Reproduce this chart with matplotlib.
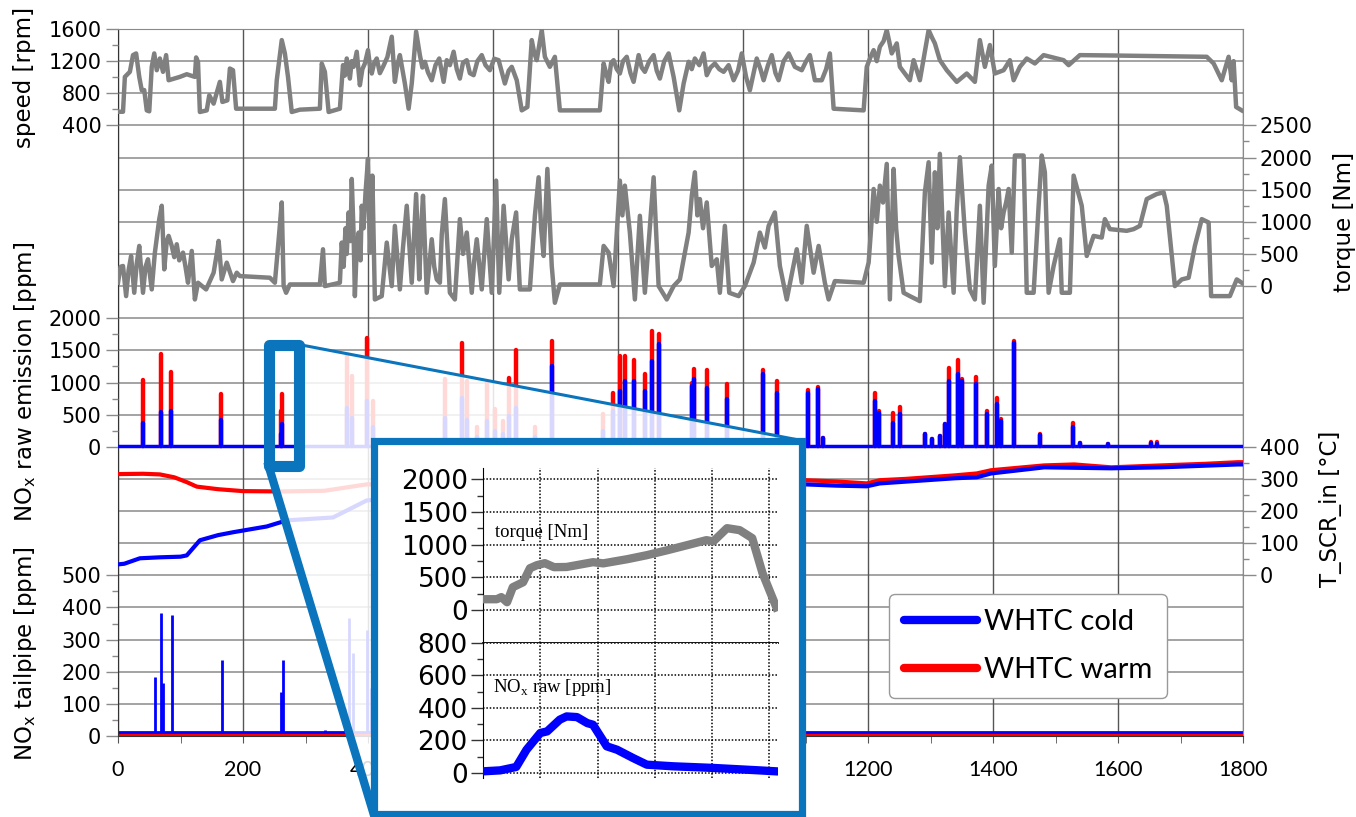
import numpy as np
import matplotlib.pyplot as plt
from matplotlib.lines import Line2D
from matplotlib.patches import Polygon, Rectangle

plt.rcParams['font.family'] = ['DejaVu Sans']
plt.rcParams['mathtext.fontset'] = 'custom'
plt.rcParams['mathtext.rm'] = 'Liberation Serif'
plt.rcParams['mathtext.sf'] = 'DejaVu Sans'

# ---- data ----
speed_t = [0, 8, 11, 19, 24, 29, 34, 38, 42, 46, 50, 54, 58, 62, 67, 72, 77, 81, 99, 110, 123, 125, 128,
           131, 142, 146, 153, 163, 167, 175, 179, 184, 189, 251, 254, 262, 267, 272, 278, 291, 323, 326,
           331, 337, 355, 360, 363, 366, 369, 371, 374, 377, 382, 387, 391, 395, 400, 403, 406, 410, 414,
           419, 424, 431, 438, 443, 447, 451, 459, 465, 470, 477, 483, 487, 491, 496, 502, 508, 514, 521,
           526, 531, 537, 542, 547, 552, 558, 563, 569, 575, 582, 588, 595, 602, 609, 619, 625, 630, 638,
           646, 655, 662, 666, 670, 678, 683, 691, 699, 707, 771, 777, 781, 785, 789, 793, 798, 803, 808,
           814, 820, 825, 833, 838, 843, 850, 857, 862, 867, 874, 881, 889, 898, 905, 913, 918, 923, 930,
           937, 942, 948, 955, 962, 969, 977, 985, 992, 998, 1005, 1011, 1022, 1028, 1033, 1040, 1046, 1052,
           1057, 1065, 1073, 1083, 1094, 1101, 1107, 1115, 1126, 1133, 1139, 1145, 1193, 1198, 1204, 1209,
           1214, 1219, 1225, 1230, 1238, 1246, 1251, 1267, 1273, 1283, 1297, 1302, 1307, 1315, 1326, 1342,
           1358, 1371, 1379, 1387, 1395, 1403, 1417, 1427, 1433, 1443, 1454, 1467, 1481, 1513, 1521, 1539,
           1593, 1742, 1753, 1766, 1777, 1782, 1785, 1789, 1798]
speed_rpm = [570, 570, 1004, 1067, 1275, 1296, 1004, 837, 840, 587, 575, 1129, 1296, 1087, 1233, 1067, 1275,
             962, 1004, 1037, 1004, 1246, 1192, 567, 587, 775, 671, 942, 692, 712, 1108, 1087, 608, 608,
             962, 1462, 1296, 1004, 567, 596, 608, 1171, 1067, 567, 608, 1150, 1020, 1233, 1080, 983, 1200,
             1129, 1317, 900, 1100, 1171, 1337, 1150, 1046, 1180, 1233, 1050, 1129, 1250, 1504, 942, 1150,
             1275, 921, 608, 921, 1567, 1275, 1120, 1192, 1060, 962, 1150, 1233, 942, 1212, 1150, 1317, 1100,
             983, 1180, 1212, 1050, 1025, 1200, 1275, 1150, 1087, 1230, 1212, 921, 1080, 1129, 962, 587, 629,
             1462, 1300, 1212, 1587, 1254, 1129, 1254, 587, 587, 1171, 1050, 942, 1180, 1212, 1100, 1046,
             1200, 1254, 1050, 942, 1275, 1120, 1067, 1200, 1275, 1080, 983, 1200, 1296, 1004, 587, 921,
             1192, 1100, 1233, 1150, 1296, 1025, 1120, 1171, 1100, 1067, 1150, 962, 1080, 1296, 1000, 837,
             1233, 1100, 962, 1150, 1275, 1050, 962, 1200, 1296, 1129, 1087, 1200, 1275, 962, 962, 1100, 1296,
             608, 587, 1129, 1250, 1337, 1200, 1379, 1450, 1587, 1296, 1421, 1129, 962, 1212, 962, 1587, 1500,
             1421, 1212, 1087, 942, 1046, 942, 1462, 1129, 1400, 1046, 1087, 1212, 962, 1129, 1233, 1171, 1275,
             1212, 1150, 1275, 1270, 1254, 1171, 962, 1254, 962, 1200, 629, 587]

torque_t = [0, 4, 8, 13, 17, 21, 26, 30, 34, 40, 44, 48, 54, 59, 66, 70, 74, 78, 81, 86, 90, 94, 98, 104, 108,
            112, 118, 123, 128, 141, 153, 158, 161, 166, 174, 184, 190, 195, 243, 251, 258, 262, 265, 269,
            275, 323, 328, 331, 355, 358, 361, 364, 366, 369, 372, 374, 377, 379, 382, 385, 388, 390, 393,
            396, 400, 403, 407, 411, 422, 430, 438, 443, 451, 456, 462, 470, 477, 482, 485, 488, 494, 502,
            506, 510, 515, 518, 523, 531, 539, 547, 552, 558, 566, 570, 574, 582, 590, 598, 605, 610, 617,
            625, 630, 637, 643, 659, 667, 673, 677, 681, 687, 694, 699, 707, 771, 777, 785, 793, 803, 807,
            811, 819, 827, 835, 843, 857, 865, 878, 889, 899, 913, 918, 923, 927, 931, 936, 942, 950, 958,
            963, 971, 978, 993, 1003, 1017, 1027, 1035, 1041, 1051, 1059, 1070, 1086, 1094, 1102, 1113,
            1121, 1131, 1137, 1147, 1193, 1201, 1205, 1209, 1214, 1219, 1224, 1230, 1235, 1241, 1245, 1249,
            1257, 1267, 1283, 1291, 1297, 1302, 1307, 1311, 1315, 1323, 1329, 1337, 1342, 1347, 1355, 1363,
            1371, 1379, 1385, 1393, 1398, 1403, 1409, 1413, 1417, 1421, 1425, 1430, 1435, 1449, 1454, 1465,
            1473, 1478, 1483, 1489, 1497, 1507, 1510, 1523, 1529, 1539, 1542, 1550, 1561, 1574, 1579, 1587,
            1614, 1625, 1635, 1646, 1662, 1673, 1678, 1691, 1702, 1713, 1723, 1734, 1745, 1749, 1779, 1790,
            1798]
torque_nm = [52, 300, 313, -156, 250, 469, -104, 350, 625, -104, 300, 417, -52, 521, 1042, 1250, 260, 700, 781,
             625, 450, 651, 400, 521, 300, 52, 547, -208, 52, -52, 208, 500, 703, 104, 365, 78, 208, 156, 130,
             52, 833, 1302, 0, -104, 26, 26, 573, 0, 52, 677, 300, 900, 500, 1146, 700, 1667, 800, -156, 600,
             833, 400, 1250, 900, 1450, 1979, 521, 1719, -208, -156, 677, 0, 937, -52, 600, 1250, 52, 1432,
             104, 900, 1406, -104, 729, 300, 104, 52, 800, 1354, -104, -208, 1042, 500, 833, -104, 400, 729,
             -52, 1042, -104, 1641, -104, 1250, 104, 729, 1146, -52, -52, 1094, 1693, 900, 469, 1823, 313,
             -260, 26, 26, 625, 521, 0, 1641, 1100, 1563, 833, -208, 1094, -104, 1693, 0, -208, 0, 104, 833,
             1400, 1771, 1100, 1354, 900, 1302, 313, 417, -104, 937, -104, -156, 0, 365, 833, 600, 937, 1146,
             313, -208, 573, 52, 937, 208, 625, 52, -208, 78, 52, 365, 900, 1511, 1000, 1563, 1300, 1901, -208,
             1823, 900, 469, -104, -156, -234, 1459, 1927, 365, 1771, 900, 2058, 0, 1146, -104, 1200, 2005,
             833, -52, -208, 1250, -260, 1563, 1875, 313, 1511, 900, 1146, 1300, 1511, 521, 2032, 2032, -104,
             -104, 1250, 2032, 1771, -104, 313, 729, -104, -104, 1719, 1354, 1250, 469, 781, 755, 1042, 886,
             860, 886, 937, 1354, 1432, 1459, 1250, 0, 104, 130, 625, 1042, 990, -156, -156, 104, 52]

nox_raw_base = 10
nox_raw_t = [40, 68, 85, 164, 260, 263, 366, 374, 398, 408, 523, 550, 559, 575, 590, 603, 616, 626, 637,
             667, 694, 776, 792, 803, 811, 826, 843, 854, 866, 918, 922, 942, 974, 1032, 1054, 1104, 1120,
             1128, 1211, 1218, 1240, 1251, 1291, 1302, 1315, 1323, 1330, 1344, 1350, 1373, 1390, 1406, 1413,
             1434, 1475, 1528, 1539, 1584, 1652, 1662]
nox_raw_warm = [1042, 1447, 1167, 825, 560, 825, 1416, 1100, 1700, 715, 1060, 1620, 1030, 300, 1000, 590,
                400, 1070, 1510, 300, 1650, 510, 840, 1416, 1416, 1350, 1135, 1805, 1760, 1000, 1210, 1200,
                980, 1200, 1030, 890, 935, 140, 840, 560, 530, 620, 200, 125, 170, 360, 1230, 1350, 1050,
                1090, 560, 760, 435, 1650, 200, 375, 60, 45, 80, 70]
nox_raw_cold = [375, 545, 560, 420, 200, 360, 600, 450, 715, 300, 450, 760, 420, 150, 400, 250, 200, 480,
                610, 150, 1260, 250, 560, 870, 1030, 1030, 870, 1340, 1600, 950, 1060, 920, 750, 1135, 840,
                840, 900, 140, 715, 530, 375, 510, 200, 125, 170, 360, 1030, 1135, 1030, 980, 510, 670, 400,
                1620, 190, 300, 60, 45, 60, 50]

tscr_warm_t = [0, 40, 67, 90, 110, 126, 160, 200, 260, 330, 398, 500, 700, 900, 1000, 1099, 1150, 1198,
               1219, 1260, 1339, 1374, 1397, 1482, 1530, 1589, 1669, 1740, 1792, 1800]
tscr_warm = [315, 316, 314, 305, 290, 276, 268, 262, 261, 263, 283, 285, 288, 292, 295, 296, 292, 286, 296,
             300, 311, 317, 327, 342, 345, 336, 342, 347, 352, 352]
tscr_cold_t = [0, 10, 35, 67, 100, 110, 131, 160, 184, 238, 270, 344, 398, 500, 700, 900, 1000, 1099, 1150,
               1198, 1219, 1339, 1374, 1397, 1482, 1589, 1669, 1792, 1800]
tscr_cold = [34, 36, 53, 56, 58, 62, 109, 125, 134, 152, 171, 180, 233, 250, 268, 278, 282, 283, 279, 277,
             286, 302, 305, 317, 336, 333, 336, 345, 345]

tail_cold_base = 12
tail_warm_base = 3
tail_t = [59, 69, 72, 86, 166, 260, 264, 331, 363, 370, 376, 398, 405]
tail_cold = [183, 383, 165, 376, 236, 137, 236, 20, 87, 367, 258, 330, 150]

# zoomed detail (inset)
zoom_t = [250, 251.2, 251.6, 252.1, 252.6, 253.5, 254.1, 254.7, 255.4, 256.2, 257.3, 259.6, 260.5, 262.6,
          264.3, 266.1, 267.8, 269.5, 270.1, 271.3, 272.4, 273.5, 274.4, 275.6]
zoom_torque = [168, 168, 200, 122, 351, 427, 641, 687, 718, 657, 660, 733, 715, 779, 840, 916, 992, 1069,
               1050, 1252, 1222, 1100, 565, 46]
zoom_nox_t = [250, 251.5, 252.9, 253.8, 255, 255.6, 256.7, 257.3, 258.2, 259.1, 259.6, 260.8, 261.7, 263.1,
              264.3, 266.6, 270.1, 274.1, 275.6]
zoom_nox = [10, 16, 37, 143, 246, 256, 328, 348, 344, 307, 297, 164, 143, 92, 51, 41, 31, 16, 10]
zoom_window_t = (241, 290)
zoom_window_ppm = (-300, 1590)

x_ticks = list(range(0, 1801, 200))

BLUE, RED, GREY = '#0000FF', '#FF0000', '#808080'
BOX = '#0A74BC'
GRID = '#8a8a8a'

W, H = 1356, 817
fig = plt.figure(figsize=(W / 100, H / 100), dpi=100)


def fx(px):
    return px / W


def fy(py):
    return 1 - py / H


L, R, T, B = 118, 1243, 29, 736
frame = [fx(L), fy(B), (R - L) / W, (B - T) / H]

# base axes: tailpipe scale, carries the grid
ax = fig.add_axes(frame)
ax.set_xlim(0, 1800)
ax.set_ylim(0, 2200)
for v in range(0, 2201, 100):
    ax.axhline(v, color=GRID, lw=1.1, zorder=0)
ax.set_xticks(x_ticks, [str(v) for v in x_ticks], fontfamily='Lato', fontsize=15.5)
ax.set_xticks(range(100, 1800, 200), minor=True)
ax.grid(axis='x', color='#555555', lw=1.0)
ax.tick_params(axis='x', which='major', length=5, pad=12, color='#555555')
ax.tick_params(axis='x', which='minor', length=5, color='#555555')
for s in ['top', 'right']:
    ax.spines[s].set_color(GRID)
ax.spines['left'].set_color('#333333')
ax.spines['bottom'].set_color('#333333')


def style_y(a, major, minor, side='left'):
    a.set_yticks(major, [str(v) for v in major])
    a.set_yticks(minor, minor=True)
    if side == 'right':
        a.yaxis.tick_right()
    a.tick_params(axis='y', which='major', length=9, width=1, color=GRID, labelsize=15, pad=3)
    a.tick_params(axis='y', which='minor', length=4, width=1, color=GRID)


def layer(ylim, name):
    a = fig.add_axes(frame, sharex=ax, label=name)
    a.set_ylim(*ylim)
    a.patch.set_visible(False)
    for s in a.spines.values():
        s.set_visible(False)
    a.xaxis.set_visible(False)
    return a


style_y(ax, list(range(0, 501, 100)), list(range(50, 451, 100)))

ax_speed = layer((-7200, 1600), 'speed')
style_y(ax_speed, [400, 800, 1200, 1600], [600, 1000, 1400])
ax_torque = layer((-7000, 4000), 'torque')
style_y(ax_torque, list(range(0, 2501, 500)), list(range(250, 2251, 500)), side='right')
ax_nox = layer((-4500, 6500), 'noxraw')
style_y(ax_nox, list(range(0, 2001, 500)), list(range(250, 1751, 500)))
ax_t = layer((-500, 1700), 'tscr')
style_y(ax_t, list(range(0, 401, 100)), list(range(50, 351, 100)), side='right')

# data
ax_speed.plot(speed_t, speed_rpm, color=GREY, lw=3.2, solid_joinstyle='round')
ax_torque.plot(torque_t, torque_nm, color=GREY, lw=3.2, solid_joinstyle='round')

ax_nox.axhline(nox_raw_base, color=BLUE, lw=2.5)
ax_nox.vlines(nox_raw_t, nox_raw_base, nox_raw_warm, color=RED, lw=3.2, capstyle='round')
ax_nox.vlines(nox_raw_t, nox_raw_base, nox_raw_cold, color=BLUE, lw=3.2, capstyle='round')

ax_t.plot(tscr_warm_t, tscr_warm, color=RED, lw=3)
ax_t.plot(tscr_cold_t, tscr_cold, color=BLUE, lw=3)

ax.axhline(tail_warm_base, color=RED, lw=3.5, zorder=2)
ax.axhline(tail_cold_base, color=BLUE, lw=2, zorder=2.1)
ax.vlines(tail_t, tail_cold_base, tail_cold, color=BLUE, lw=2, zorder=2.1)

# axis titles
lab = dict(fontsize=16.5, rotation=90, ha='center', va='center')
fig.text(fx(25), fy(77), 'speed [rpm]', **lab)
fig.text(fx(26), fy(382), r'NO$_\mathsf{x}$ raw emission [ppm]', **lab)
fig.text(fx(26), fy(654), r'NO$_\mathsf{x}$ tailpipe [ppm]', **lab)
fig.text(fx(1344), fy(222), 'torque [Nm]', **lab)
fig.text(fx(1330), fy(509), 'T_SCR_in [°C]', **lab)

# legend
handles = [Line2D([], [], color=BLUE, lw=6, solid_capstyle='round'),
           Line2D([], [], color=RED, lw=6, solid_capstyle='round')]
leg = fig.legend(handles, ['WHTC cold', 'WHTC warm'], loc='center',
                 bbox_to_anchor=(fx(1028), fy(646)), prop={'family': 'Lato', 'size': 21},
                 frameon=True, fancybox=True, framealpha=1, edgecolor='#999999',
                 handlelength=2.5, handletextpad=0.25, borderpad=0.5, labelspacing=0.75)

# overlay in pixel coordinates for the zoom decoration
ov = fig.add_axes([0, 0, 1, 1], zorder=5)
ov.set_xlim(0, W)
ov.set_ylim(H, 0)
ov.axis('off')
ov.patch.set_visible(False)


def to_px(a, x, y):
    d = a.transData.transform((x, y))
    return ov.transData.inverted().transform(d)


x0, y0 = to_px(ax_nox, zoom_window_t[0], zoom_window_ppm[1])
x1, y1 = to_px(ax_nox, zoom_window_t[1], zoom_window_ppm[0])
bl, bt, br, bb = 373.5, 440.5, 801.5, 813.5

ov.add_patch(Polygon([(x1, y0), (br, bt), (br, H + 10), (bl, H + 10), (x0, y1), (x1, y1)],
                     closed=True, facecolor='white', edgecolor='none', alpha=0.85, zorder=1))
ov.plot([x1, br], [y0, bt], color=BOX, lw=2.2, zorder=2)
ov.plot([x0, bl], [y1, bb], color=BOX, lw=6, zorder=2)
ov.add_patch(Rectangle((bl, bt), br - bl, bb - bt, facecolor='white', edgecolor=BOX, lw=5.2,
                       zorder=3, joinstyle='miter'))
ov.add_patch(Rectangle((x0, y0), x1 - x0, y1 - y0, fill=False, edgecolor=BOX, lw=8,
                       zorder=4, joinstyle='round'))

# inset axes
ins_top = fig.add_axes([fx(483), fy(643), 295 / W, 175 / H], zorder=6)
ins_bot = fig.add_axes([fx(483), fy(778), 295 / W, 135 / H], zorder=6)
for a in (ins_top, ins_bot):
    a.set_xlim(250, 275.75)
    a.set_xticks([255, 260, 265, 270, 275])
    a.tick_params(axis='x', length=0, labelbottom=False)
    a.grid(True, which='major', ls=(0, (1, 1.2)), color='black', lw=1.1)
    for s in ['top', 'right', 'bottom']:
        a.spines[s].set_visible(False)
    a.spines['left'].set_color('black')
    a.tick_params(axis='y', which='major', length=9, width=1, labelsize=19, pad=2, color='#333333')
    a.tick_params(axis='y', which='minor', length=4, width=1, color='#333333')

ins_top.set_ylim(-500, 2170)
ins_top.set_yticks(range(0, 2001, 500))
ins_top.set_yticks(range(250, 2001, 500), minor=True)
ins_top.spines['bottom'].set_visible(True)
ins_top.spines['bottom'].set_color('black')
ins_top.spines['bottom'].set_linewidth(1.3)
ins_top.plot(zoom_t, zoom_torque, color=GREY, lw=6, zorder=3, solid_joinstyle='round')
ins_top.add_patch(Rectangle((0, 0.514), 0.542, 0.206, transform=ins_top.transAxes,
                            facecolor='white', edgecolor='none', zorder=1))
ins_top.text(0.04, 0.63, 'torque [Nm]', transform=ins_top.transAxes, va='center',
             family='Liberation Serif', fontsize=13.5, zorder=4)

ins_bot.set_ylim(-31, 800)
ins_bot.set_yticks(range(0, 801, 200))
ins_bot.set_yticks(range(100, 800, 200), minor=True)
ins_bot.plot(zoom_nox_t, zoom_nox, color=BLUE, lw=6, zorder=3, solid_joinstyle='round')
ins_bot.add_patch(Rectangle((0, 0.489), 0.624, 0.311, transform=ins_bot.transAxes,
                            facecolor='white', edgecolor='none', zorder=1))
ins_bot.text(0.035, 0.667, r'NO$_\mathrm{x}$ raw [ppm]', transform=ins_bot.transAxes, va='center',
             family='Liberation Serif', fontsize=13.5, zorder=4)

fig.savefig('out.png', dpi=100)
